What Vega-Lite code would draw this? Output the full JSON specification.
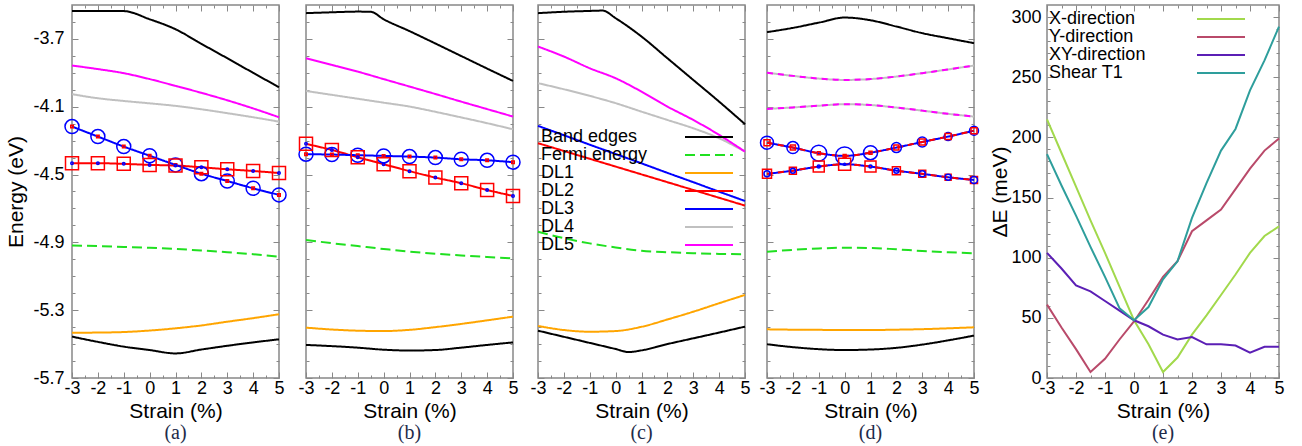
{
"$schema": "https://vega.github.io/schema/vega-lite/v6.json",
"padding": {"left": 5, "top": 3, "right": 5, "bottom": 0},
"config": {
  "font": "Liberation Sans",
  "view": {"stroke": "#888888", "strokeWidth": 1.5},
  "axis": {"domain": false, "grid": false, "minExtent": 0, "tickColor": "#888888", "tickWidth": 1, "labelFont": "Liberation Sans", "labelFontSize": 18, "labelColor": "#000000", "titleFont": "Liberation Sans", "titleFontSize": 21, "titleFontWeight": "normal", "titleColor": "#000000", "labelFlush": false, "labelOverlap": false, "labelAngle": 0},
  "legend": {"labelFont": "Liberation Sans", "labelFontSize": 18, "labelColor": "#000000", "rowPadding": 0, "padding": 0, "labelLimit": 300},
  "title": {"orient": "bottom", "font": "Liberation Serif", "fontSize": 20, "fontWeight": "normal", "color": "#1e2b4a", "offset": 2}
},
"datasets": {
"a": [
{"x":-3,"E":-3.535,"s":"Band edges","c":"t"},{"x":-2,"E":-3.535,"s":"Band edges","c":"t"},{"x":-1,"E":-3.536,"s":"Band edges","c":"t"},{"x":0,"E":-3.584,"s":"Band edges","c":"t"},{"x":1,"E":-3.643,"s":"Band edges","c":"t"},{"x":2,"E":-3.729,"s":"Band edges","c":"t"},{"x":3,"E":-3.814,"s":"Band edges","c":"t"},{"x":4,"E":-3.9,"s":"Band edges","c":"t"},{"x":5,"E":-3.985,"s":"Band edges","c":"t"},
{"x":-3,"E":-5.456,"s":"Band edges","c":"b"},{"x":-2,"E":-5.487,"s":"Band edges","c":"b"},{"x":-1,"E":-5.515,"s":"Band edges","c":"b"},{"x":0,"E":-5.535,"s":"Band edges","c":"b"},{"x":1,"E":-5.555,"s":"Band edges","c":"b"},{"x":2,"E":-5.532,"s":"Band edges","c":"b"},{"x":3,"E":-5.51,"s":"Band edges","c":"b"},{"x":4,"E":-5.49,"s":"Band edges","c":"b"},{"x":5,"E":-5.472,"s":"Band edges","c":"b"},
{"x":-3,"E":-4.919,"s":"Fermi energy"},{"x":-2,"E":-4.922,"s":"Fermi energy"},{"x":-1,"E":-4.927,"s":"Fermi energy"},{"x":0,"E":-4.932,"s":"Fermi energy"},{"x":1,"E":-4.939,"s":"Fermi energy"},{"x":2,"E":-4.948,"s":"Fermi energy"},{"x":3,"E":-4.958,"s":"Fermi energy"},{"x":4,"E":-4.97,"s":"Fermi energy"},{"x":5,"E":-4.984,"s":"Fermi energy"},
{"x":-3,"E":-5.433,"s":"DL1"},{"x":-2,"E":-5.432,"s":"DL1"},{"x":-1,"E":-5.429,"s":"DL1"},{"x":0,"E":-5.42,"s":"DL1"},{"x":1,"E":-5.407,"s":"DL1"},{"x":2,"E":-5.39,"s":"DL1"},{"x":3,"E":-5.368,"s":"DL1"},{"x":4,"E":-5.347,"s":"DL1"},{"x":5,"E":-5.324,"s":"DL1"},
{"x":-3,"E":-4.433,"s":"DL2"},{"x":-2,"E":-4.433,"s":"DL2"},{"x":-1,"E":-4.437,"s":"DL2"},{"x":0,"E":-4.443,"s":"DL2"},{"x":1,"E":-4.447,"s":"DL2"},{"x":2,"E":-4.457,"s":"DL2"},{"x":3,"E":-4.469,"s":"DL2"},{"x":4,"E":-4.479,"s":"DL2"},{"x":5,"E":-4.491,"s":"DL2"},
{"x":-3,"E":-4.217,"s":"DL3"},{"x":-2,"E":-4.276,"s":"DL3"},{"x":-1,"E":-4.335,"s":"DL3"},{"x":0,"E":-4.389,"s":"DL3"},{"x":1,"E":-4.443,"s":"DL3"},{"x":2,"E":-4.495,"s":"DL3"},{"x":3,"E":-4.538,"s":"DL3"},{"x":4,"E":-4.581,"s":"DL3"},{"x":5,"E":-4.62,"s":"DL3"},
{"x":-3,"E":-4.026,"s":"DL4"},{"x":-2,"E":-4.05,"s":"DL4"},{"x":-1,"E":-4.066,"s":"DL4"},{"x":0,"E":-4.08,"s":"DL4"},{"x":1,"E":-4.095,"s":"DL4"},{"x":2,"E":-4.115,"s":"DL4"},{"x":3,"E":-4.138,"s":"DL4"},{"x":4,"E":-4.162,"s":"DL4"},{"x":5,"E":-4.188,"s":"DL4"},
{"x":-3,"E":-3.857,"s":"DL5"},{"x":-2,"E":-3.878,"s":"DL5"},{"x":-1,"E":-3.902,"s":"DL5"},{"x":0,"E":-3.937,"s":"DL5"},{"x":1,"E":-3.977,"s":"DL5"},{"x":2,"E":-4.018,"s":"DL5"},{"x":3,"E":-4.062,"s":"DL5"},{"x":4,"E":-4.11,"s":"DL5"},{"x":5,"E":-4.162,"s":"DL5"}
],
"am": [
{"x":-3,"E":-4.217,"s":"DL3","w":14},{"x":-2,"E":-4.276,"s":"DL3","w":14},{"x":-1,"E":-4.335,"s":"DL3","w":14},{"x":0,"E":-4.389,"s":"DL3","w":14},{"x":1,"E":-4.443,"s":"DL3","w":14},{"x":2,"E":-4.495,"s":"DL3","w":14},{"x":3,"E":-4.538,"s":"DL3","w":14},{"x":4,"E":-4.581,"s":"DL3","w":14},{"x":5,"E":-4.62,"s":"DL3","w":14},
{"x":-3,"E":-4.433,"s":"DL2","w":13},{"x":-2,"E":-4.433,"s":"DL2","w":13},{"x":-1,"E":-4.437,"s":"DL2","w":13},{"x":0,"E":-4.443,"s":"DL2","w":13},{"x":1,"E":-4.447,"s":"DL2","w":13},{"x":2,"E":-4.457,"s":"DL2","w":13},{"x":3,"E":-4.469,"s":"DL2","w":13},{"x":4,"E":-4.479,"s":"DL2","w":13},{"x":5,"E":-4.491,"s":"DL2","w":13},
{"x":-3,"E":-4.217,"s":"DL2","w":2.5},{"x":-2,"E":-4.276,"s":"DL2","w":2.5},{"x":-1,"E":-4.335,"s":"DL2","w":2.5},{"x":0,"E":-4.389,"s":"DL2","w":2.5},{"x":1,"E":-4.443,"s":"DL2","w":2.5},{"x":2,"E":-4.495,"s":"DL2","w":2.5},{"x":3,"E":-4.538,"s":"DL2","w":2.5},{"x":4,"E":-4.581,"s":"DL2","w":2.5},{"x":5,"E":-4.62,"s":"DL2","w":2.5},
{"x":-3,"E":-4.433,"s":"DL3","w":2.5},{"x":-2,"E":-4.433,"s":"DL3","w":2.5},{"x":-1,"E":-4.437,"s":"DL3","w":2.5},{"x":0,"E":-4.443,"s":"DL3","w":2.5},{"x":1,"E":-4.447,"s":"DL3","w":2.5},{"x":2,"E":-4.457,"s":"DL3","w":2.5},{"x":3,"E":-4.469,"s":"DL3","w":2.5},{"x":4,"E":-4.479,"s":"DL3","w":2.5},{"x":5,"E":-4.491,"s":"DL3","w":2.5}
],
"b": [
{"x":-3,"E":-3.548,"s":"Band edges","c":"t"},{"x":-2,"E":-3.543,"s":"Band edges","c":"t"},{"x":-1,"E":-3.539,"s":"Band edges","c":"t"},{"x":-0.5,"E":-3.54,"s":"Band edges","c":"t"},{"x":0,"E":-3.584,"s":"Band edges","c":"t"},{"x":1,"E":-3.654,"s":"Band edges","c":"t"},{"x":2,"E":-3.727,"s":"Band edges","c":"t"},{"x":3,"E":-3.801,"s":"Band edges","c":"t"},{"x":4,"E":-3.875,"s":"Band edges","c":"t"},{"x":5,"E":-3.948,"s":"Band edges","c":"t"},
{"x":-3,"E":-5.505,"s":"Band edges","c":"b"},{"x":-2,"E":-5.512,"s":"Band edges","c":"b"},{"x":-1,"E":-5.521,"s":"Band edges","c":"b"},{"x":0,"E":-5.533,"s":"Band edges","c":"b"},{"x":1,"E":-5.538,"s":"Band edges","c":"b"},{"x":2,"E":-5.535,"s":"Band edges","c":"b"},{"x":3,"E":-5.521,"s":"Band edges","c":"b"},{"x":4,"E":-5.505,"s":"Band edges","c":"b"},{"x":5,"E":-5.49,"s":"Band edges","c":"b"},
{"x":-3,"E":-4.886,"s":"Fermi energy"},{"x":-2,"E":-4.905,"s":"Fermi energy"},{"x":-1,"E":-4.922,"s":"Fermi energy"},{"x":0,"E":-4.939,"s":"Fermi energy"},{"x":1,"E":-4.955,"s":"Fermi energy"},{"x":2,"E":-4.967,"s":"Fermi energy"},{"x":3,"E":-4.977,"s":"Fermi energy"},{"x":4,"E":-4.986,"s":"Fermi energy"},{"x":5,"E":-4.994,"s":"Fermi energy"},
{"x":-3,"E":-5.403,"s":"DL1"},{"x":-2,"E":-5.414,"s":"DL1"},{"x":-1,"E":-5.421,"s":"DL1"},{"x":0,"E":-5.423,"s":"DL1"},{"x":1,"E":-5.416,"s":"DL1"},{"x":2,"E":-5.4,"s":"DL1"},{"x":3,"E":-5.381,"s":"DL1"},{"x":4,"E":-5.36,"s":"DL1"},{"x":5,"E":-5.338,"s":"DL1"},
{"x":-3,"E":-4.319,"s":"DL2"},{"x":-2,"E":-4.355,"s":"DL2"},{"x":-1,"E":-4.398,"s":"DL2"},{"x":0,"E":-4.439,"s":"DL2"},{"x":1,"E":-4.48,"s":"DL2"},{"x":2,"E":-4.518,"s":"DL2"},{"x":3,"E":-4.551,"s":"DL2"},{"x":4,"E":-4.591,"s":"DL2"},{"x":5,"E":-4.626,"s":"DL2"},
{"x":-3,"E":-4.38,"s":"DL3"},{"x":-2,"E":-4.382,"s":"DL3"},{"x":-1,"E":-4.386,"s":"DL3"},{"x":0,"E":-4.39,"s":"DL3"},{"x":1,"E":-4.394,"s":"DL3"},{"x":2,"E":-4.4,"s":"DL3"},{"x":3,"E":-4.41,"s":"DL3"},{"x":4,"E":-4.416,"s":"DL3"},{"x":5,"E":-4.427,"s":"DL3"},
{"x":-3,"E":-4.007,"s":"DL4"},{"x":-2,"E":-4.03,"s":"DL4"},{"x":-1,"E":-4.053,"s":"DL4"},{"x":0,"E":-4.076,"s":"DL4"},{"x":1,"E":-4.099,"s":"DL4"},{"x":2,"E":-4.13,"s":"DL4"},{"x":3,"E":-4.163,"s":"DL4"},{"x":4,"E":-4.197,"s":"DL4"},{"x":5,"E":-4.233,"s":"DL4"},
{"x":-3,"E":-3.814,"s":"DL5"},{"x":-2,"E":-3.853,"s":"DL5"},{"x":-1,"E":-3.893,"s":"DL5"},{"x":0,"E":-3.937,"s":"DL5"},{"x":1,"E":-3.981,"s":"DL5"},{"x":2,"E":-4.025,"s":"DL5"},{"x":3,"E":-4.07,"s":"DL5"},{"x":4,"E":-4.114,"s":"DL5"},{"x":5,"E":-4.158,"s":"DL5"}
],
"bm": [
{"x":-3,"E":-4.38,"s":"DL3","w":14},{"x":-2,"E":-4.382,"s":"DL3","w":14},{"x":-1,"E":-4.386,"s":"DL3","w":14},{"x":0,"E":-4.39,"s":"DL3","w":14},{"x":1,"E":-4.394,"s":"DL3","w":14},{"x":2,"E":-4.4,"s":"DL3","w":14},{"x":3,"E":-4.41,"s":"DL3","w":14},{"x":4,"E":-4.416,"s":"DL3","w":14},{"x":5,"E":-4.427,"s":"DL3","w":14},
{"x":-3,"E":-4.319,"s":"DL2","w":13},{"x":-2,"E":-4.355,"s":"DL2","w":13},{"x":-1,"E":-4.398,"s":"DL2","w":13},{"x":0,"E":-4.439,"s":"DL2","w":13},{"x":1,"E":-4.48,"s":"DL2","w":13},{"x":2,"E":-4.518,"s":"DL2","w":13},{"x":3,"E":-4.551,"s":"DL2","w":13},{"x":4,"E":-4.591,"s":"DL2","w":13},{"x":5,"E":-4.626,"s":"DL2","w":13},
{"x":-3,"E":-4.38,"s":"DL2","w":2.5},{"x":-2,"E":-4.382,"s":"DL2","w":2.5},{"x":-1,"E":-4.386,"s":"DL2","w":2.5},{"x":0,"E":-4.39,"s":"DL2","w":2.5},{"x":1,"E":-4.394,"s":"DL2","w":2.5},{"x":2,"E":-4.4,"s":"DL2","w":2.5},{"x":3,"E":-4.41,"s":"DL2","w":2.5},{"x":4,"E":-4.416,"s":"DL2","w":2.5},{"x":5,"E":-4.427,"s":"DL2","w":2.5},
{"x":-3,"E":-4.319,"s":"DL3","w":2.5},{"x":-2,"E":-4.355,"s":"DL3","w":2.5},{"x":-1,"E":-4.398,"s":"DL3","w":2.5},{"x":0,"E":-4.439,"s":"DL3","w":2.5},{"x":1,"E":-4.48,"s":"DL3","w":2.5},{"x":2,"E":-4.518,"s":"DL3","w":2.5},{"x":3,"E":-4.551,"s":"DL3","w":2.5},{"x":4,"E":-4.591,"s":"DL3","w":2.5},{"x":5,"E":-4.626,"s":"DL3","w":2.5}
],
"c": [
{"x":-3,"E":-3.548,"s":"Band edges","c":"t"},{"x":-2,"E":-3.54,"s":"Band edges","c":"t"},{"x":-1,"E":-3.535,"s":"Band edges","c":"t"},{"x":-0.5,"E":-3.533,"s":"Band edges","c":"t"},{"x":0,"E":-3.578,"s":"Band edges","c":"t"},{"x":1,"E":-3.686,"s":"Band edges","c":"t"},{"x":2,"E":-3.814,"s":"Band edges","c":"t"},{"x":3,"E":-3.942,"s":"Band edges","c":"t"},{"x":4,"E":-4.07,"s":"Band edges","c":"t"},{"x":5,"E":-4.203,"s":"Band edges","c":"t"},
{"x":-3,"E":-5.421,"s":"Band edges","c":"b"},{"x":-2,"E":-5.457,"s":"Band edges","c":"b"},{"x":-1,"E":-5.493,"s":"Band edges","c":"b"},{"x":0,"E":-5.529,"s":"Band edges","c":"b"},{"x":0.5,"E":-5.547,"s":"Band edges","c":"b"},{"x":1,"E":-5.537,"s":"Band edges","c":"b"},{"x":2,"E":-5.5,"s":"Band edges","c":"b"},{"x":3,"E":-5.466,"s":"Band edges","c":"b"},{"x":4,"E":-5.432,"s":"Band edges","c":"b"},{"x":5,"E":-5.397,"s":"Band edges","c":"b"},
{"x":-3,"E":-4.837,"s":"Fermi energy"},{"x":-2,"E":-4.875,"s":"Fermi energy"},{"x":-1,"E":-4.906,"s":"Fermi energy"},{"x":0,"E":-4.93,"s":"Fermi energy"},{"x":1,"E":-4.949,"s":"Fermi energy"},{"x":2,"E":-4.958,"s":"Fermi energy"},{"x":3,"E":-4.964,"s":"Fermi energy"},{"x":4,"E":-4.968,"s":"Fermi energy"},{"x":5,"E":-4.97,"s":"Fermi energy"},
{"x":-3,"E":-5.393,"s":"DL1"},{"x":-2,"E":-5.417,"s":"DL1"},{"x":-1,"E":-5.427,"s":"DL1"},{"x":0,"E":-5.423,"s":"DL1"},{"x":1,"E":-5.398,"s":"DL1"},{"x":2,"E":-5.355,"s":"DL1"},{"x":3,"E":-5.309,"s":"DL1"},{"x":4,"E":-5.259,"s":"DL1"},{"x":5,"E":-5.21,"s":"DL1"},
{"x":-3,"E":-4.315,"s":"DL2"},{"x":-2,"E":-4.361,"s":"DL2"},{"x":-1,"E":-4.407,"s":"DL2"},{"x":0,"E":-4.453,"s":"DL2"},{"x":1,"E":-4.499,"s":"DL2"},{"x":2,"E":-4.545,"s":"DL2"},{"x":3,"E":-4.591,"s":"DL2"},{"x":4,"E":-4.637,"s":"DL2"},{"x":5,"E":-4.683,"s":"DL2"},
{"x":-3,"E":-4.213,"s":"DL3"},{"x":-2,"E":-4.268,"s":"DL3"},{"x":-1,"E":-4.324,"s":"DL3"},{"x":0,"E":-4.379,"s":"DL3"},{"x":1,"E":-4.434,"s":"DL3"},{"x":2,"E":-4.49,"s":"DL3"},{"x":3,"E":-4.545,"s":"DL3"},{"x":4,"E":-4.601,"s":"DL3"},{"x":5,"E":-4.656,"s":"DL3"},
{"x":-3,"E":-3.961,"s":"DL4"},{"x":-2,"E":-3.997,"s":"DL4"},{"x":-1,"E":-4.036,"s":"DL4"},{"x":0,"E":-4.079,"s":"DL4"},{"x":1,"E":-4.129,"s":"DL4"},{"x":2,"E":-4.178,"s":"DL4"},{"x":3,"E":-4.227,"s":"DL4"},{"x":4,"E":-4.286,"s":"DL4"},{"x":5,"E":-4.365,"s":"DL4"},
{"x":-3,"E":-3.745,"s":"DL5"},{"x":-2,"E":-3.804,"s":"DL5"},{"x":-1,"E":-3.873,"s":"DL5"},{"x":0,"E":-3.932,"s":"DL5"},{"x":1,"E":-4.011,"s":"DL5"},{"x":2,"E":-4.099,"s":"DL5"},{"x":3,"E":-4.178,"s":"DL5"},{"x":4,"E":-4.266,"s":"DL5"},{"x":5,"E":-4.365,"s":"DL5"}
],
"d": [
{"x":-3,"E":-3.66,"s":"Band edges","c":"t"},{"x":-2,"E":-3.635,"s":"Band edges","c":"t"},{"x":-1,"E":-3.604,"s":"Band edges","c":"t"},{"x":0,"E":-3.574,"s":"Band edges","c":"t"},{"x":1,"E":-3.59,"s":"Band edges","c":"t"},{"x":2,"E":-3.627,"s":"Band edges","c":"t"},{"x":3,"E":-3.666,"s":"Band edges","c":"t"},{"x":4,"E":-3.696,"s":"Band edges","c":"t"},{"x":5,"E":-3.725,"s":"Band edges","c":"t"},
{"x":-3,"E":-5.501,"s":"Band edges","c":"b"},{"x":-2,"E":-5.518,"s":"Band edges","c":"b"},{"x":-1,"E":-5.53,"s":"Band edges","c":"b"},{"x":0,"E":-5.535,"s":"Band edges","c":"b"},{"x":1,"E":-5.532,"s":"Band edges","c":"b"},{"x":2,"E":-5.522,"s":"Band edges","c":"b"},{"x":3,"E":-5.503,"s":"Band edges","c":"b"},{"x":4,"E":-5.478,"s":"Band edges","c":"b"},{"x":5,"E":-5.45,"s":"Band edges","c":"b"},
{"x":-3,"E":-4.955,"s":"Fermi energy"},{"x":-2,"E":-4.944,"s":"Fermi energy"},{"x":-1,"E":-4.936,"s":"Fermi energy"},{"x":0,"E":-4.932,"s":"Fermi energy"},{"x":1,"E":-4.933,"s":"Fermi energy"},{"x":2,"E":-4.941,"s":"Fermi energy"},{"x":3,"E":-4.951,"s":"Fermi energy"},{"x":4,"E":-4.958,"s":"Fermi energy"},{"x":5,"E":-4.964,"s":"Fermi energy"},
{"x":-3,"E":-5.413,"s":"DL1"},{"x":-2,"E":-5.415,"s":"DL1"},{"x":-1,"E":-5.416,"s":"DL1"},{"x":0,"E":-5.417,"s":"DL1"},{"x":1,"E":-5.417,"s":"DL1"},{"x":2,"E":-5.415,"s":"DL1"},{"x":3,"E":-5.412,"s":"DL1"},{"x":4,"E":-5.407,"s":"DL1"},{"x":5,"E":-5.401,"s":"DL1"},
{"x":-3,"E":-3.899,"s":"DL4","c":"u"},{"x":-2,"E":-3.918,"s":"DL4","c":"u"},{"x":-1,"E":-3.934,"s":"DL4","c":"u"},{"x":0,"E":-3.942,"s":"DL4","c":"u"},{"x":1,"E":-3.937,"s":"DL4","c":"u"},{"x":2,"E":-3.922,"s":"DL4","c":"u"},{"x":3,"E":-3.902,"s":"DL4","c":"u"},{"x":4,"E":-3.88,"s":"DL4","c":"u"},{"x":5,"E":-3.857,"s":"DL4","c":"u"},
{"x":-3,"E":-4.113,"s":"DL4","c":"l"},{"x":-2,"E":-4.104,"s":"DL4","c":"l"},{"x":-1,"E":-4.094,"s":"DL4","c":"l"},{"x":0,"E":-4.085,"s":"DL4","c":"l"},{"x":1,"E":-4.09,"s":"DL4","c":"l"},{"x":2,"E":-4.105,"s":"DL4","c":"l"},{"x":3,"E":-4.123,"s":"DL4","c":"l"},{"x":4,"E":-4.142,"s":"DL4","c":"l"},{"x":5,"E":-4.158,"s":"DL4","c":"l"},
{"x":-3,"E":-3.899,"s":"DL5","c":"u"},{"x":-2,"E":-3.918,"s":"DL5","c":"u"},{"x":-1,"E":-3.934,"s":"DL5","c":"u"},{"x":0,"E":-3.942,"s":"DL5","c":"u"},{"x":1,"E":-3.937,"s":"DL5","c":"u"},{"x":2,"E":-3.922,"s":"DL5","c":"u"},{"x":3,"E":-3.902,"s":"DL5","c":"u"},{"x":4,"E":-3.88,"s":"DL5","c":"u"},{"x":5,"E":-3.857,"s":"DL5","c":"u"},
{"x":-3,"E":-4.113,"s":"DL5","c":"l"},{"x":-2,"E":-4.104,"s":"DL5","c":"l"},{"x":-1,"E":-4.094,"s":"DL5","c":"l"},{"x":0,"E":-4.085,"s":"DL5","c":"l"},{"x":1,"E":-4.09,"s":"DL5","c":"l"},{"x":2,"E":-4.105,"s":"DL5","c":"l"},{"x":3,"E":-4.123,"s":"DL5","c":"l"},{"x":4,"E":-4.142,"s":"DL5","c":"l"},{"x":5,"E":-4.158,"s":"DL5","c":"l"},
{"x":-3,"E":-4.312,"s":"DL3","c":"u"},{"x":-2,"E":-4.341,"s":"DL3","c":"u"},{"x":-1,"E":-4.374,"s":"DL3","c":"u"},{"x":0,"E":-4.39,"s":"DL3","c":"u"},{"x":1,"E":-4.371,"s":"DL3","c":"u"},{"x":2,"E":-4.341,"s":"DL3","c":"u"},{"x":3,"E":-4.308,"s":"DL3","c":"u"},{"x":4,"E":-4.276,"s":"DL3","c":"u"},{"x":5,"E":-4.241,"s":"DL3","c":"u"},
{"x":-3,"E":-4.496,"s":"DL3","c":"l"},{"x":-2,"E":-4.477,"s":"DL3","c":"l"},{"x":-1,"E":-4.453,"s":"DL3","c":"l"},{"x":0,"E":-4.439,"s":"DL3","c":"l"},{"x":1,"E":-4.453,"s":"DL3","c":"l"},{"x":2,"E":-4.477,"s":"DL3","c":"l"},{"x":3,"E":-4.496,"s":"DL3","c":"l"},{"x":4,"E":-4.516,"s":"DL3","c":"l"},{"x":5,"E":-4.532,"s":"DL3","c":"l"},
{"x":-3,"E":-4.312,"s":"DL2","c":"u"},{"x":-2,"E":-4.341,"s":"DL2","c":"u"},{"x":-1,"E":-4.374,"s":"DL2","c":"u"},{"x":0,"E":-4.39,"s":"DL2","c":"u"},{"x":1,"E":-4.371,"s":"DL2","c":"u"},{"x":2,"E":-4.341,"s":"DL2","c":"u"},{"x":3,"E":-4.308,"s":"DL2","c":"u"},{"x":4,"E":-4.276,"s":"DL2","c":"u"},{"x":5,"E":-4.241,"s":"DL2","c":"u"},
{"x":-3,"E":-4.496,"s":"DL2","c":"l"},{"x":-2,"E":-4.477,"s":"DL2","c":"l"},{"x":-1,"E":-4.453,"s":"DL2","c":"l"},{"x":0,"E":-4.439,"s":"DL2","c":"l"},{"x":1,"E":-4.453,"s":"DL2","c":"l"},{"x":2,"E":-4.477,"s":"DL2","c":"l"},{"x":3,"E":-4.496,"s":"DL2","c":"l"},{"x":4,"E":-4.516,"s":"DL2","c":"l"},{"x":5,"E":-4.532,"s":"DL2","c":"l"}
],
"dm": [
{"x":-3,"E":-4.312,"s":"DL3","w":13},{"x":-2,"E":-4.341,"s":"DL3","w":12},{"x":-1,"E":-4.374,"s":"DL3","w":16},{"x":0,"E":-4.39,"s":"DL3","w":18},{"x":1,"E":-4.371,"s":"DL3","w":14},{"x":2,"E":-4.341,"s":"DL3","w":10},{"x":3,"E":-4.308,"s":"DL3","w":10},{"x":4,"E":-4.276,"s":"DL3","w":8},{"x":5,"E":-4.241,"s":"DL3","w":9},
{"x":-3,"E":-4.496,"s":"DL2","w":9},{"x":-2,"E":-4.477,"s":"DL2","w":7},{"x":-1,"E":-4.453,"s":"DL2","w":11},{"x":0,"E":-4.439,"s":"DL2","w":12},{"x":1,"E":-4.453,"s":"DL2","w":11},{"x":2,"E":-4.477,"s":"DL2","w":8},{"x":3,"E":-4.496,"s":"DL2","w":7},{"x":4,"E":-4.516,"s":"DL2","w":6},{"x":5,"E":-4.532,"s":"DL2","w":7},
{"x":-3,"E":-4.312,"s":"DL2","w":6},{"x":-2,"E":-4.341,"s":"DL2","w":5},{"x":-1,"E":-4.374,"s":"DL2","w":3},{"x":0,"E":-4.39,"s":"DL2","w":3},{"x":1,"E":-4.371,"s":"DL2","w":3},{"x":2,"E":-4.341,"s":"DL2","w":5},{"x":3,"E":-4.308,"s":"DL2","w":6},{"x":4,"E":-4.276,"s":"DL2","w":6},{"x":5,"E":-4.241,"s":"DL2","w":6},
{"x":-3,"E":-4.496,"s":"DL3","w":6},{"x":-2,"E":-4.477,"s":"DL3","w":5},{"x":-1,"E":-4.453,"s":"DL3","w":3},{"x":0,"E":-4.439,"s":"DL3","w":2},{"x":1,"E":-4.453,"s":"DL3","w":3},{"x":2,"E":-4.477,"s":"DL3","w":5},{"x":3,"E":-4.496,"s":"DL3","w":6},{"x":4,"E":-4.516,"s":"DL3","w":6},{"x":5,"E":-4.532,"s":"DL3","w":7}
],
"e": [
{"x":-3,"v":215,"s":"X-direction"},{"x":-2.5,"v":187,"s":"X-direction"},{"x":-2,"v":159,"s":"X-direction"},{"x":-1.5,"v":131,"s":"X-direction"},{"x":-1,"v":104,"s":"X-direction"},{"x":-0.5,"v":76,"s":"X-direction"},{"x":0,"v":48,"s":"X-direction"},{"x":0.5,"v":28,"s":"X-direction"},{"x":1,"v":5,"s":"X-direction"},{"x":1.5,"v":17,"s":"X-direction"},{"x":2,"v":36,"s":"X-direction"},{"x":2.5,"v":52,"s":"X-direction"},{"x":3,"v":69,"s":"X-direction"},{"x":3.5,"v":86,"s":"X-direction"},{"x":4,"v":104,"s":"X-direction"},{"x":4.5,"v":118,"s":"X-direction"},{"x":5,"v":126,"s":"X-direction"},
{"x":-3,"v":61,"s":"Y-direction"},{"x":-2.5,"v":42,"s":"Y-direction"},{"x":-2,"v":24,"s":"Y-direction"},{"x":-1.5,"v":5,"s":"Y-direction"},{"x":-1,"v":16,"s":"Y-direction"},{"x":-0.5,"v":32,"s":"Y-direction"},{"x":0,"v":47,"s":"Y-direction"},{"x":0.5,"v":65,"s":"Y-direction"},{"x":1,"v":84,"s":"Y-direction"},{"x":1.5,"v":97,"s":"Y-direction"},{"x":2,"v":122,"s":"Y-direction"},{"x":2.5,"v":131,"s":"Y-direction"},{"x":3,"v":140,"s":"Y-direction"},{"x":3.5,"v":157,"s":"Y-direction"},{"x":4,"v":174,"s":"Y-direction"},{"x":4.5,"v":189,"s":"Y-direction"},{"x":5,"v":199,"s":"Y-direction"},
{"x":-3,"v":104,"s":"XY-direction"},{"x":-2.5,"v":91,"s":"XY-direction"},{"x":-2,"v":77,"s":"XY-direction"},{"x":-1.5,"v":72,"s":"XY-direction"},{"x":-1,"v":64,"s":"XY-direction"},{"x":-0.5,"v":56,"s":"XY-direction"},{"x":0,"v":48,"s":"XY-direction"},{"x":0.5,"v":43,"s":"XY-direction"},{"x":1,"v":36,"s":"XY-direction"},{"x":1.5,"v":32,"s":"XY-direction"},{"x":2,"v":34,"s":"XY-direction"},{"x":2.5,"v":28,"s":"XY-direction"},{"x":3,"v":28,"s":"XY-direction"},{"x":3.5,"v":27,"s":"XY-direction"},{"x":4,"v":21,"s":"XY-direction"},{"x":4.5,"v":26,"s":"XY-direction"},{"x":5,"v":26,"s":"XY-direction"},
{"x":-3,"v":186,"s":"Shear T1"},{"x":-2.5,"v":160,"s":"Shear T1"},{"x":-2,"v":135,"s":"Shear T1"},{"x":-1.5,"v":109,"s":"Shear T1"},{"x":-1,"v":84,"s":"Shear T1"},{"x":-0.5,"v":58,"s":"Shear T1"},{"x":0,"v":48,"s":"Shear T1"},{"x":0.5,"v":59,"s":"Shear T1"},{"x":1,"v":82,"s":"Shear T1"},{"x":1.5,"v":97,"s":"Shear T1"},{"x":2,"v":133,"s":"Shear T1"},{"x":2.5,"v":162,"s":"Shear T1"},{"x":3,"v":189,"s":"Shear T1"},{"x":3.5,"v":207,"s":"Shear T1"},{"x":4,"v":239,"s":"Shear T1"},{"x":4.5,"v":264,"s":"Shear T1"},{"x":5,"v":292,"s":"Shear T1"}
]
},
"resolve": {"scale": {"color": "independent", "strokeDash": "independent", "shape": "independent", "size": "independent", "opacity": "independent"}},
"spacing": 6,
"hconcat": [
{
"spacing": 5,
"resolve": {"scale": {"color": "independent", "strokeDash": "independent", "shape": "independent", "size": "independent", "opacity": "independent"}},
"hconcat": [
{
"width": 207, "height": 373, "title": {"text": "(a)"},
"resolve": {"scale": {"x": "independent", "y": "independent"}},
"layer": [
{"layer": [
{"data": {"name": "a"}, "mark": {"type": "line", "strokeWidth": 2, "interpolate": "monotone"},
 "encoding": {
  "x": {"field": "x", "type": "quantitative", "scale": {"domain": [-3, 5], "nice": false, "zero": false}, "axis": {"values": [-3,-2.5,-2,-1.5,-1,-0.5,0,0.5,1,1.5,2,2.5,3,3.5,4,4.5,5], "labelOverlap": false, "labelExpr": "datum.value % 1 == 0 ? '' + datum.value : ''", "tickSize": {"condition": {"test": "datum.value % 1 == 0", "value": -6}, "value": -3}, "labelPadding": 7, "title": "Strain (%)", "titlePadding": 0}},
  "y": {"field": "E", "type": "quantitative", "scale": {"domain": [-5.7, -3.5], "nice": false, "zero": false}, "axis": {"values": [-5.7,-5.6,-5.5,-5.4,-5.3,-5.2,-5.1,-5,-4.9,-4.8,-4.7,-4.6,-4.5,-4.4,-4.3,-4.2,-4.1,-4,-3.9,-3.8,-3.7,-3.6], "labelOverlap": false, "labelExpr": "indexof([-3.7,-4.1,-4.5,-4.9,-5.3,-5.7], datum.value) >= 0 ? '' + datum.value : ''", "tickSize": {"condition": {"test": "indexof([-3.7,-4.1,-4.5,-4.9,-5.3,-5.7], datum.value) >= 0", "value": -6}, "value": -3}, "labelPadding": 14, "title": "Energy (eV)", "titlePadding": 6}},
  "color": {"field": "s", "type": "nominal", "scale": {"domain": ["Band edges","Fermi energy","DL1","DL2","DL3","DL4","DL5"], "range": ["#000000","#20e020","#ffa500","#ff0000","#0000ff","#c0c0c0","#ff00ff"]}, "legend": null},
  "strokeDash": {"field": "s", "type": "nominal", "scale": {"domain": ["Band edges","Fermi energy","DL1","DL2","DL3","DL4","DL5"], "range": [[1,0],[10,5],[1,0],[1,0],[1,0],[1,0],[1,0]]}, "legend": null},
  "detail": {"field": "c"}
 }},
{"data": {"name": "am"}, "mark": {"type": "point", "filled": false, "strokeWidth": 1.5, "opacity": 1},
 "encoding": {
  "x": {"field": "x", "type": "quantitative", "axis": {"values": [-3,-2.5,-2,-1.5,-1,-0.5,0,0.5,1,1.5,2,2.5,3,3.5,4,4.5,5], "labelOverlap": false, "labelExpr": "datum.value % 1 == 0 ? '' + datum.value : ''", "tickSize": {"condition": {"test": "datum.value % 1 == 0", "value": -6}, "value": -3}, "labelPadding": 7, "title": "Strain (%)", "titlePadding": 0}},
  "y": {"field": "E", "type": "quantitative", "axis": {"values": [-5.7,-5.6,-5.5,-5.4,-5.3,-5.2,-5.1,-5,-4.9,-4.8,-4.7,-4.6,-4.5,-4.4,-4.3,-4.2,-4.1,-4,-3.9,-3.8,-3.7,-3.6], "labelOverlap": false, "labelExpr": "indexof([-3.7,-4.1,-4.5,-4.9,-5.3,-5.7], datum.value) >= 0 ? '' + datum.value : ''", "tickSize": {"condition": {"test": "indexof([-3.7,-4.1,-4.5,-4.9,-5.3,-5.7], datum.value) >= 0", "value": -6}, "value": -3}, "labelPadding": 14, "title": "Energy (eV)", "titlePadding": 6}},
  "color": {"field": "s", "type": "nominal", "legend": null},
  "shape": {"field": "s", "type": "nominal", "scale": {"domain": ["DL2","DL3"], "range": ["square","circle"]}, "legend": null},
  "size": {"field": "w", "type": "quantitative", "scale": {"type": "pow", "exponent": 2, "domain": [0, 20], "range": [0, 400]}, "legend": null}
 }}
]},
{"data": {"name": "a"}, "mark": {"type": "point", "opacity": 0},
 "encoding": {
  "x": {"field": "x", "type": "quantitative", "scale": {"domain": [-3, 5], "nice": false, "zero": false}, "axis": {"orient": "top", "values": [-3,-2.5,-2,-1.5,-1,-0.5,0,0.5,1,1.5,2,2.5,3,3.5,4,4.5,5], "labels": false, "title": null, "tickSize": {"condition": {"test": "datum.value % 1 == 0", "value": -6}, "value": -3}}},
  "y": {"field": "E", "type": "quantitative", "scale": {"domain": [-5.7, -3.5], "nice": false, "zero": false}, "axis": {"orient": "right", "values": [-5.7,-5.6,-5.5,-5.4,-5.3,-5.2,-5.1,-5,-4.9,-4.8,-4.7,-4.6,-4.5,-4.4,-4.3,-4.2,-4.1,-4,-3.9,-3.8,-3.7,-3.6], "labels": false, "title": null, "tickSize": {"condition": {"test": "indexof([-3.7,-4.1,-4.5,-4.9,-5.3,-5.7], datum.value) >= 0", "value": -6}, "value": -3}}}
 }}
]
},
{
"width": 207, "height": 373, "title": {"text": "(b)"},
"resolve": {"scale": {"x": "independent", "y": "independent"}},
"layer": [
{"layer": [
{"data": {"name": "b"}, "mark": {"type": "line", "strokeWidth": 2, "interpolate": "monotone"},
 "encoding": {
  "x": {"field": "x", "type": "quantitative", "scale": {"domain": [-3, 5], "nice": false, "zero": false}, "axis": {"values": [-3,-2.5,-2,-1.5,-1,-0.5,0,0.5,1,1.5,2,2.5,3,3.5,4,4.5,5], "labelOverlap": false, "labelExpr": "datum.value % 1 == 0 ? '' + datum.value : ''", "tickSize": {"condition": {"test": "datum.value % 1 == 0", "value": -6}, "value": -3}, "labelPadding": 7, "title": "Strain (%)", "titlePadding": 0}},
  "y": {"field": "E", "type": "quantitative", "scale": {"domain": [-5.7, -3.5], "nice": false, "zero": false}, "axis": {"values": [-5.7,-5.6,-5.5,-5.4,-5.3,-5.2,-5.1,-5,-4.9,-4.8,-4.7,-4.6,-4.5,-4.4,-4.3,-4.2,-4.1,-4,-3.9,-3.8,-3.7,-3.6], "labels": false, "tickSize": {"condition": {"test": "indexof([-3.7,-4.1,-4.5,-4.9,-5.3,-5.7], datum.value) >= 0", "value": -6}, "value": -3}, "title": null}},
  "color": {"field": "s", "type": "nominal", "scale": {"domain": ["Band edges","Fermi energy","DL1","DL2","DL3","DL4","DL5"], "range": ["#000000","#20e020","#ffa500","#ff0000","#0000ff","#c0c0c0","#ff00ff"]}, "legend": null},
  "strokeDash": {"field": "s", "type": "nominal", "scale": {"domain": ["Band edges","Fermi energy","DL1","DL2","DL3","DL4","DL5"], "range": [[1,0],[10,5],[1,0],[1,0],[1,0],[1,0],[1,0]]}, "legend": null},
  "detail": {"field": "c"}
 }},
{"data": {"name": "bm"}, "mark": {"type": "point", "filled": false, "strokeWidth": 1.5, "opacity": 1},
 "encoding": {
  "x": {"field": "x", "type": "quantitative", "axis": {"values": [-3,-2.5,-2,-1.5,-1,-0.5,0,0.5,1,1.5,2,2.5,3,3.5,4,4.5,5], "labelOverlap": false, "labelExpr": "datum.value % 1 == 0 ? '' + datum.value : ''", "tickSize": {"condition": {"test": "datum.value % 1 == 0", "value": -6}, "value": -3}, "labelPadding": 7, "title": "Strain (%)", "titlePadding": 0}},
  "y": {"field": "E", "type": "quantitative", "axis": {"values": [-5.7,-5.6,-5.5,-5.4,-5.3,-5.2,-5.1,-5,-4.9,-4.8,-4.7,-4.6,-4.5,-4.4,-4.3,-4.2,-4.1,-4,-3.9,-3.8,-3.7,-3.6], "labels": false, "tickSize": {"condition": {"test": "indexof([-3.7,-4.1,-4.5,-4.9,-5.3,-5.7], datum.value) >= 0", "value": -6}, "value": -3}, "title": null}},
  "color": {"field": "s", "type": "nominal", "legend": null},
  "shape": {"field": "s", "type": "nominal", "scale": {"domain": ["DL2","DL3"], "range": ["square","circle"]}, "legend": null},
  "size": {"field": "w", "type": "quantitative", "scale": {"type": "pow", "exponent": 2, "domain": [0, 20], "range": [0, 400]}, "legend": null}
 }}
]},
{"data": {"name": "b"}, "mark": {"type": "point", "opacity": 0},
 "encoding": {
  "x": {"field": "x", "type": "quantitative", "scale": {"domain": [-3, 5], "nice": false, "zero": false}, "axis": {"orient": "top", "values": [-3,-2.5,-2,-1.5,-1,-0.5,0,0.5,1,1.5,2,2.5,3,3.5,4,4.5,5], "labels": false, "title": null, "tickSize": {"condition": {"test": "datum.value % 1 == 0", "value": -6}, "value": -3}}},
  "y": {"field": "E", "type": "quantitative", "scale": {"domain": [-5.7, -3.5], "nice": false, "zero": false}, "axis": {"orient": "right", "values": [-5.7,-5.6,-5.5,-5.4,-5.3,-5.2,-5.1,-5,-4.9,-4.8,-4.7,-4.6,-4.5,-4.4,-4.3,-4.2,-4.1,-4,-3.9,-3.8,-3.7,-3.6], "labels": false, "title": null, "tickSize": {"condition": {"test": "indexof([-3.7,-4.1,-4.5,-4.9,-5.3,-5.7], datum.value) >= 0", "value": -6}, "value": -3}}}
 }}
]
},
{
"width": 207, "height": 373, "title": {"text": "(c)"},
"resolve": {"scale": {"x": "independent", "y": "independent"}},
"layer": [
{"layer": [
{"data": {"name": "c"}, "mark": {"type": "line", "strokeWidth": 2, "interpolate": "monotone"},
 "encoding": {
  "x": {"field": "x", "type": "quantitative", "scale": {"domain": [-3, 5], "nice": false, "zero": false}, "axis": {"values": [-3,-2.5,-2,-1.5,-1,-0.5,0,0.5,1,1.5,2,2.5,3,3.5,4,4.5,5], "labelOverlap": false, "labelExpr": "datum.value % 1 == 0 ? '' + datum.value : ''", "tickSize": {"condition": {"test": "datum.value % 1 == 0", "value": -6}, "value": -3}, "labelPadding": 7, "title": "Strain (%)", "titlePadding": 0}},
  "y": {"field": "E", "type": "quantitative", "scale": {"domain": [-5.7, -3.5], "nice": false, "zero": false}, "axis": {"values": [-5.7,-5.6,-5.5,-5.4,-5.3,-5.2,-5.1,-5,-4.9,-4.8,-4.7,-4.6,-4.5,-4.4,-4.3,-4.2,-4.1,-4,-3.9,-3.8,-3.7,-3.6], "labels": false, "tickSize": {"condition": {"test": "indexof([-3.7,-4.1,-4.5,-4.9,-5.3,-5.7], datum.value) >= 0", "value": -6}, "value": -3}, "title": null}},
  "color": {"field": "s", "type": "nominal", "scale": {"domain": ["Band edges","Fermi energy","DL1","DL2","DL3","DL4","DL5"], "range": ["#000000","#20e020","#ffa500","#ff0000","#0000ff","#c0c0c0","#ff00ff"]}, "legend": {"title": null, "orient": "none", "direction": "vertical", "legendX": 146, "legendY": 123, "labelExpr": "''", "symbolType": "stroke", "symbolSize": 2304, "symbolStrokeWidth": 2, "clipHeight": 18, "labelOffset": 0}},
  "strokeDash": {"field": "s", "type": "nominal", "scale": {"domain": ["Band edges","Fermi energy","DL1","DL2","DL3","DL4","DL5"], "range": [[1,0],[10,5],[1,0],[1,0],[1,0],[1,0],[1,0]]}, "legend": {"title": null, "orient": "none", "direction": "vertical", "legendX": 146, "legendY": 123, "labelExpr": "''", "symbolType": "stroke", "symbolSize": 2304, "symbolStrokeWidth": 2, "clipHeight": 18, "labelOffset": 0}},
  "opacity": {"field": "s", "type": "nominal", "sort": null, "scale": {"range": [1, 1]}, "legend": {"title": null, "orient": "none", "direction": "vertical", "legendX": 3, "legendY": 123, "symbolSize": 0, "symbolStrokeWidth": 0, "symbolOpacity": 0, "labelOffset": -18}},
  "detail": {"field": "c"}
 }}
]},
{"data": {"name": "c"}, "mark": {"type": "point", "opacity": 0},
 "encoding": {
  "x": {"field": "x", "type": "quantitative", "scale": {"domain": [-3, 5], "nice": false, "zero": false}, "axis": {"orient": "top", "values": [-3,-2.5,-2,-1.5,-1,-0.5,0,0.5,1,1.5,2,2.5,3,3.5,4,4.5,5], "labels": false, "title": null, "tickSize": {"condition": {"test": "datum.value % 1 == 0", "value": -6}, "value": -3}}},
  "y": {"field": "E", "type": "quantitative", "scale": {"domain": [-5.7, -3.5], "nice": false, "zero": false}, "axis": {"orient": "right", "values": [-5.7,-5.6,-5.5,-5.4,-5.3,-5.2,-5.1,-5,-4.9,-4.8,-4.7,-4.6,-4.5,-4.4,-4.3,-4.2,-4.1,-4,-3.9,-3.8,-3.7,-3.6], "labels": false, "title": null, "tickSize": {"condition": {"test": "indexof([-3.7,-4.1,-4.5,-4.9,-5.3,-5.7], datum.value) >= 0", "value": -6}, "value": -3}}}
 }}
]
},
{
"width": 207, "height": 373, "title": {"text": "(d)"},
"resolve": {"scale": {"x": "independent", "y": "independent"}},
"layer": [
{"layer": [
{"data": {"name": "d"}, "transform": [{"filter": "datum.s != 'DL2' && datum.s != 'DL5'"}], "mark": {"type": "line", "strokeWidth": 2, "interpolate": "monotone"},
 "encoding": {
  "x": {"field": "x", "type": "quantitative", "scale": {"domain": [-3, 5], "nice": false, "zero": false}, "axis": {"values": [-3,-2.5,-2,-1.5,-1,-0.5,0,0.5,1,1.5,2,2.5,3,3.5,4,4.5,5], "labelOverlap": false, "labelExpr": "datum.value % 1 == 0 ? '' + datum.value : ''", "tickSize": {"condition": {"test": "datum.value % 1 == 0", "value": -6}, "value": -3}, "labelPadding": 7, "title": "Strain (%)", "titlePadding": 0}},
  "y": {"field": "E", "type": "quantitative", "scale": {"domain": [-5.7, -3.5], "nice": false, "zero": false}, "axis": {"values": [-5.7,-5.6,-5.5,-5.4,-5.3,-5.2,-5.1,-5,-4.9,-4.8,-4.7,-4.6,-4.5,-4.4,-4.3,-4.2,-4.1,-4,-3.9,-3.8,-3.7,-3.6], "labels": false, "tickSize": {"condition": {"test": "indexof([-3.7,-4.1,-4.5,-4.9,-5.3,-5.7], datum.value) >= 0", "value": -6}, "value": -3}, "title": null}},
  "color": {"field": "s", "type": "nominal", "scale": {"domain": ["Band edges","Fermi energy","DL1","DL2","DL3","DL4","DL5"], "range": ["#000000","#20e020","#ffa500","#ff0000","#0000ff","#c0c0c0","#ff00ff"]}, "legend": null},
  "strokeDash": {"field": "s", "type": "nominal", "scale": {"domain": ["Band edges","Fermi energy","DL1","DL2","DL3","DL4","DL5"], "range": [[1,0],[10,5],[1,0],[1,0],[1,0],[1,0],[1,0]]}, "legend": null},
  "detail": {"field": "c"}
 }},
{"data": {"name": "d"}, "transform": [{"filter": "datum.s == 'DL2' || datum.s == 'DL5'"}], "mark": {"type": "line", "strokeWidth": 2, "interpolate": "monotone", "strokeDash": [6, 5]},
 "encoding": {
  "x": {"field": "x", "type": "quantitative", "axis": {"values": [-3,-2.5,-2,-1.5,-1,-0.5,0,0.5,1,1.5,2,2.5,3,3.5,4,4.5,5], "labelOverlap": false, "labelExpr": "datum.value % 1 == 0 ? '' + datum.value : ''", "tickSize": {"condition": {"test": "datum.value % 1 == 0", "value": -6}, "value": -3}, "labelPadding": 7, "title": "Strain (%)", "titlePadding": 0}},
  "y": {"field": "E", "type": "quantitative", "axis": {"values": [-5.7,-5.6,-5.5,-5.4,-5.3,-5.2,-5.1,-5,-4.9,-4.8,-4.7,-4.6,-4.5,-4.4,-4.3,-4.2,-4.1,-4,-3.9,-3.8,-3.7,-3.6], "labels": false, "tickSize": {"condition": {"test": "indexof([-3.7,-4.1,-4.5,-4.9,-5.3,-5.7], datum.value) >= 0", "value": -6}, "value": -3}, "title": null}},
  "color": {"field": "s", "type": "nominal", "legend": null},
  "detail": {"field": "c"}
 }},
{"data": {"name": "dm"}, "mark": {"type": "point", "filled": false, "strokeWidth": 1.5, "opacity": 1},
 "encoding": {
  "x": {"field": "x", "type": "quantitative", "axis": {"values": [-3,-2.5,-2,-1.5,-1,-0.5,0,0.5,1,1.5,2,2.5,3,3.5,4,4.5,5], "labelOverlap": false, "labelExpr": "datum.value % 1 == 0 ? '' + datum.value : ''", "tickSize": {"condition": {"test": "datum.value % 1 == 0", "value": -6}, "value": -3}, "labelPadding": 7, "title": "Strain (%)", "titlePadding": 0}},
  "y": {"field": "E", "type": "quantitative", "axis": {"values": [-5.7,-5.6,-5.5,-5.4,-5.3,-5.2,-5.1,-5,-4.9,-4.8,-4.7,-4.6,-4.5,-4.4,-4.3,-4.2,-4.1,-4,-3.9,-3.8,-3.7,-3.6], "labels": false, "tickSize": {"condition": {"test": "indexof([-3.7,-4.1,-4.5,-4.9,-5.3,-5.7], datum.value) >= 0", "value": -6}, "value": -3}, "title": null}},
  "color": {"field": "s", "type": "nominal", "legend": null},
  "shape": {"field": "s", "type": "nominal", "scale": {"domain": ["DL2","DL3"], "range": ["square","circle"]}, "legend": null},
  "size": {"field": "w", "type": "quantitative", "scale": {"type": "pow", "exponent": 2, "domain": [0, 20], "range": [0, 400]}, "legend": null}
 }}
]},
{"data": {"name": "d"}, "mark": {"type": "point", "opacity": 0},
 "encoding": {
  "x": {"field": "x", "type": "quantitative", "scale": {"domain": [-3, 5], "nice": false, "zero": false}, "axis": {"orient": "top", "values": [-3,-2.5,-2,-1.5,-1,-0.5,0,0.5,1,1.5,2,2.5,3,3.5,4,4.5,5], "labels": false, "title": null, "tickSize": {"condition": {"test": "datum.value % 1 == 0", "value": -6}, "value": -3}}},
  "y": {"field": "E", "type": "quantitative", "scale": {"domain": [-5.7, -3.5], "nice": false, "zero": false}, "axis": {"orient": "right", "values": [-5.7,-5.6,-5.5,-5.4,-5.3,-5.2,-5.1,-5,-4.9,-4.8,-4.7,-4.6,-4.5,-4.4,-4.3,-4.2,-4.1,-4,-3.9,-3.8,-3.7,-3.6], "labels": false, "title": null, "tickSize": {"condition": {"test": "indexof([-3.7,-4.1,-4.5,-4.9,-5.3,-5.7], datum.value) >= 0", "value": -6}, "value": -3}}}
 }}
]
}
]
},
{
"width": 232, "height": 373, "title": {"text": "(e)"},
"resolve": {"scale": {"x": "independent", "y": "independent"}},
"layer": [
{"layer": [
{"data": {"name": "e"}, "mark": {"type": "line", "strokeWidth": 2},
 "encoding": {
  "x": {"field": "x", "type": "quantitative", "scale": {"domain": [-3, 5], "nice": false, "zero": false}, "axis": {"values": [-3,-2.5,-2,-1.5,-1,-0.5,0,0.5,1,1.5,2,2.5,3,3.5,4,4.5,5], "labelOverlap": false, "labelExpr": "datum.value % 1 == 0 ? '' + datum.value : ''", "tickSize": {"condition": {"test": "datum.value % 1 == 0", "value": -6}, "value": -3}, "labelPadding": 7, "title": "Strain (%)", "titlePadding": 0}},
  "y": {"field": "v", "type": "quantitative", "scale": {"domain": [0, 310], "nice": false, "zero": false}, "axis": {"values": [0,10,20,30,40,50,60,70,80,90,100,110,120,130,140,150,160,170,180,190,200,210,220,230,240,250,260,270,280,290,300], "labelOverlap": false, "labelExpr": "datum.value % 50 == 0 ? '' + datum.value : ''", "tickSize": {"condition": {"test": "datum.value % 50 == 0", "value": -6}, "value": -3}, "labelPadding": 12, "title": "ΔE (meV)", "titlePadding": 0}},
  "color": {"field": "s", "type": "nominal", "scale": {"domain": ["X-direction","Y-direction","XY-direction","Shear T1"], "range": ["#a2d94c","#b94a6a","#5b1fb5","#2e9e9c"]}, "legend": {"title": null, "orient": "none", "direction": "vertical", "legendX": 149, "legendY": 5, "labelExpr": "''", "symbolType": "stroke", "symbolSize": 2304, "symbolStrokeWidth": 2, "clipHeight": 18, "labelOffset": 0}},
  "opacity": {"field": "s", "type": "nominal", "sort": null, "scale": {"range": [1, 1]}, "legend": {"title": null, "orient": "none", "direction": "vertical", "legendX": 2, "legendY": 5, "symbolSize": 0, "symbolStrokeWidth": 0, "symbolOpacity": 0, "labelOffset": -18}}
 }}
]},
{"data": {"name": "e"}, "mark": {"type": "point", "opacity": 0},
 "encoding": {
  "x": {"field": "x", "type": "quantitative", "scale": {"domain": [-3, 5], "nice": false, "zero": false}, "axis": {"orient": "top", "values": [-3,-2.5,-2,-1.5,-1,-0.5,0,0.5,1,1.5,2,2.5,3,3.5,4,4.5,5], "labels": false, "title": null, "tickSize": {"condition": {"test": "datum.value % 1 == 0", "value": -6}, "value": -3}}},
  "y": {"field": "v", "type": "quantitative", "scale": {"domain": [0, 310], "nice": false, "zero": false}, "axis": {"orient": "right", "values": [0,10,20,30,40,50,60,70,80,90,100,110,120,130,140,150,160,170,180,190,200,210,220,230,240,250,260,270,280,290,300], "labels": false, "title": null, "tickSize": {"condition": {"test": "datum.value % 50 == 0", "value": -6}, "value": -3}}}
 }}
]
}
]
}
